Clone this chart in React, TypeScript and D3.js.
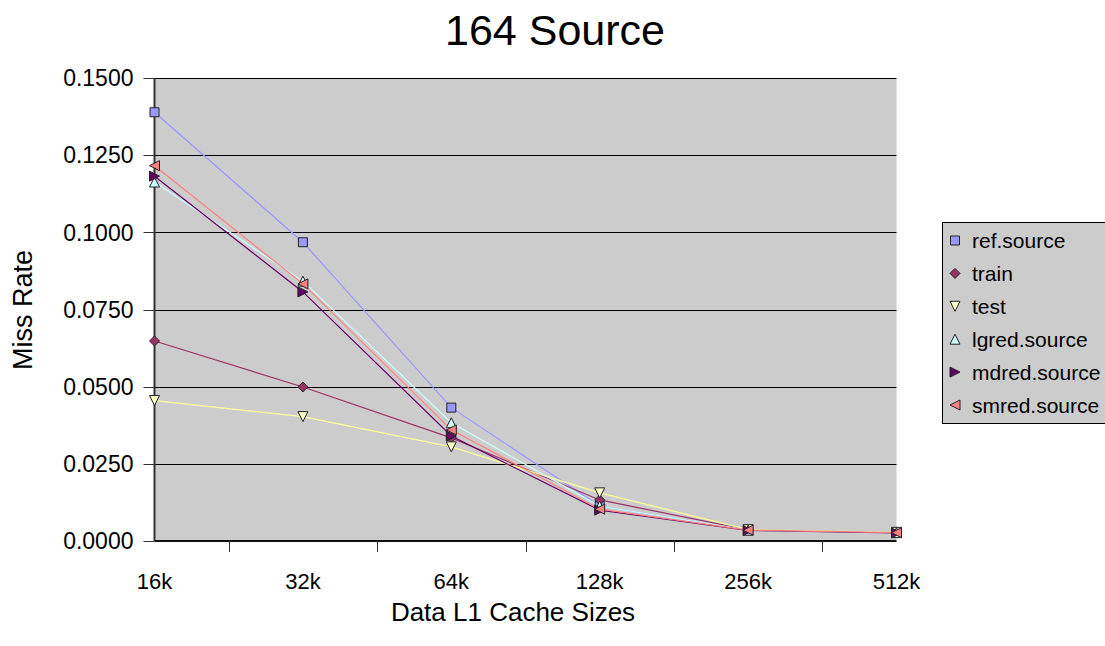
import React, { useEffect, useRef } from "react";
import * as d3 from "d3";

const categories = ["16k", "32k", "64k", "128k", "256k", "512k"];

const refSource = [0.1389, 0.0968, 0.0432, 0.0113, 0.0035, 0.0027];
const train = [0.0648, 0.0499, 0.0334, 0.0133, 0.0036, 0.0027];
const test = [0.0455, 0.0403, 0.0305, 0.0156, 0.0037, 0.0028];
const lgred = [0.1163, 0.0842, 0.0383, 0.0113, 0.0035, 0.0027];
const mdred = [0.1182, 0.0807, 0.034, 0.01, 0.0034, 0.0026];
const smred = [0.1216, 0.0833, 0.036, 0.0103, 0.0035, 0.0027];

const yTicks = [0, 0.025, 0.05, 0.075, 0.1, 0.125, 0.15];

type Series = {
  name: string;
  values: number[];
  line: string;
  fill: string;
  marker: "square" | "diamond" | "down" | "up" | "right" | "left";
};

const series: Series[] = [
  { name: "ref.source", values: refSource, line: "#9999ff", fill: "#9999ff", marker: "square" },
  { name: "train", values: train, line: "#993366", fill: "#993366", marker: "diamond" },
  { name: "test", values: test, line: "#ffff99", fill: "#ffffcc", marker: "down" },
  { name: "lgred.source", values: lgred, line: "#ccffff", fill: "#ccffff", marker: "up" },
  { name: "mdred.source", values: mdred, line: "#660066", fill: "#660066", marker: "right" },
  { name: "smred.source", values: smred, line: "#ff8080", fill: "#ff8080", marker: "left" },
];

function markerPath(kind: Series["marker"], s: number): string {
  const h = s / 2;
  switch (kind) {
    case "square":
      return `M${-h},${-h}H${h}V${h}H${-h}Z`;
    case "diamond":
      return `M0,${-h}L${h},0L0,${h}L${-h},0Z`;
    case "down":
      return `M${-h},${-h}L${h},${-h}L0,${h}Z`;
    case "up":
      return `M${-h},${h}L${h},${h}L0,${-h}Z`;
    case "right":
      return `M${-h},${-h}L${h},0L${-h},${h}Z`;
    case "left":
      return `M${h},${-h}L${-h},0L${h},${h}Z`;
  }
}

const App: React.FC = () => {
  const svgRef = useRef<SVGSVGElement | null>(null);

  useEffect(() => {
    if (!svgRef.current) return;
    const svg = d3.select(svgRef.current);
    svg.selectAll("*").remove();

    const width = 1105;
    const height = 646;
    const plot = { left: 154.5, right: 896.5, top: 78, bottom: 541 };
    const font = "'Liberation Sans', Arial, sans-serif";

    svg.append("rect").attr("width", width).attr("height", height).attr("fill", "#fff");

    const x = d3
      .scalePoint<string>()
      .domain(categories)
      .range([plot.left, plot.right]);
    const y = d3.scaleLinear().domain([0, 0.15]).range([plot.bottom, plot.top]);

    // plot area
    svg
      .append("rect")
      .attr("x", plot.left)
      .attr("y", plot.top)
      .attr("width", plot.right - plot.left)
      .attr("height", plot.bottom - plot.top)
      .attr("fill", "#cccccc");

    // gridlines
    svg
      .append("g")
      .selectAll("line")
      .data(yTicks.slice(1))
      .enter()
      .append("line")
      .attr("x1", plot.left)
      .attr("x2", plot.right)
      .attr("y1", (d) => Math.round(y(d)) + 0.5)
      .attr("y2", (d) => Math.round(y(d)) + 0.5)
      .attr("stroke", "#000")
      .attr("stroke-width", 1);

    // y axis
    const yAxis = svg.append("g").attr("transform", `translate(${plot.left},0)`);
    yAxis
      .append("line")
      .attr("x1", 0)
      .attr("x2", 0)
      .attr("y1", plot.top)
      .attr("y2", plot.bottom)
      .attr("stroke", "#333")
      .attr("stroke-width", 2);
    yAxis
      .selectAll("line.tick")
      .data(yTicks)
      .enter()
      .append("line")
      .attr("class", "tick")
      .attr("x1", -11)
      .attr("x2", 0)
      .attr("y1", (d) => Math.round(y(d)) + 0.5)
      .attr("y2", (d) => Math.round(y(d)) + 0.5)
      .attr("stroke", "#333")
      .attr("stroke-width", 1);
    yAxis
      .selectAll("text")
      .data(yTicks)
      .enter()
      .append("text")
      .attr("x", -21)
      .attr("y", (d) => y(d))
      .attr("dy", "0.36em")
      .attr("text-anchor", "end")
      .attr("font-family", font)
      .attr("font-size", 23)
      .attr("fill", "#000")
      .text((d) => d3.format(".4f")(d));

    // x axis
    const xAxis = svg.append("g").attr("transform", `translate(0,${plot.bottom})`);
    xAxis
      .append("line")
      .attr("x1", plot.left)
      .attr("x2", plot.right)
      .attr("y1", 0)
      .attr("y2", 0)
      .attr("stroke", "#111")
      .attr("stroke-width", 2);
    const step = x.step();
    xAxis
      .selectAll("line.tick")
      .data(categories.slice(1))
      .enter()
      .append("line")
      .attr("class", "tick")
      .attr("x1", (d) => Math.round(x(d)! - step / 2) + 0.5)
      .attr("x2", (d) => Math.round(x(d)! - step / 2) + 0.5)
      .attr("y1", 0)
      .attr("y2", 11)
      .attr("stroke", "#333")
      .attr("stroke-width", 1);
    xAxis
      .selectAll("text")
      .data(categories)
      .enter()
      .append("text")
      .attr("x", (d) => x(d)!)
      .attr("y", 48)
      .attr("text-anchor", "middle")
      .attr("font-family", font)
      .attr("font-size", 22)
      .attr("fill", "#000")
      .text((d) => d);

    // lines and markers
    const line = d3
      .line<number>()
      .x((_, i) => x(categories[i])!)
      .y((d) => y(d));

    series.forEach((s) => {
      svg
        .append("path")
        .attr("d", line(s.values))
        .attr("fill", "none")
        .attr("stroke", s.line)
        .attr("stroke-width", 1.2);
    });
    series.forEach((s) => {
      svg
        .append("g")
        .selectAll("path")
        .data(s.values)
        .enter()
        .append("path")
        .attr("transform", (d, i) => `translate(${x(categories[i])},${y(d)})`)
        .attr("d", markerPath(s.marker, s.marker === "square" ? 9 : 10))
        .attr("fill", s.fill)
        .attr("stroke", "#222")
        .attr("stroke-width", 1);
    });

    // title and axis labels
    svg
      .append("text")
      .attr("x", 555)
      .attr("y", 45)
      .attr("text-anchor", "middle")
      .attr("font-family", font)
      .attr("font-size", 43)
      .attr("fill", "#000")
      .text("164 Source");

    svg
      .append("text")
      .attr("x", 513)
      .attr("y", 621)
      .attr("text-anchor", "middle")
      .attr("font-family", font)
      .attr("font-size", 26)
      .attr("fill", "#000")
      .text("Data L1 Cache Sizes");

    svg
      .append("text")
      .attr("transform", `translate(32,310) rotate(-90)`)
      .attr("text-anchor", "middle")
      .attr("font-family", font)
      .attr("font-size", 27)
      .attr("fill", "#000")
      .text("Miss Rate");

    // legend
    const legend = svg.append("g");
    legend
      .append("rect")
      .attr("x", 942.5)
      .attr("y", 222.5)
      .attr("width", 170)
      .attr("height", 201)
      .attr("fill", "#cccccc")
      .attr("stroke", "#000")
      .attr("stroke-width", 1);
    const ly = d3
      .scalePoint<string>()
      .domain(series.map((s) => s.name))
      .range([240.5, 405]);
    series.forEach((s) => {
      legend
        .append("path")
        .attr("transform", `translate(955,${ly(s.name)})`)
        .attr("d", markerPath(s.marker, s.marker === "square" ? 9 : 10))
        .attr("fill", s.fill)
        .attr("stroke", "#222")
        .attr("stroke-width", 1);
      legend
        .append("text")
        .attr("x", 972)
        .attr("y", ly(s.name)!)
        .attr("dy", "0.36em")
        .attr("font-family", font)
        .attr("font-size", 21)
        .attr("fill", "#000")
        .text(s.name);
    });
  }, []);

  return (
    <svg
      ref={svgRef}
      width={1105}
      height={646}
      style={{ position: "absolute", left: 0, top: 0 }}
    ></svg>
  );
};

export default App;
